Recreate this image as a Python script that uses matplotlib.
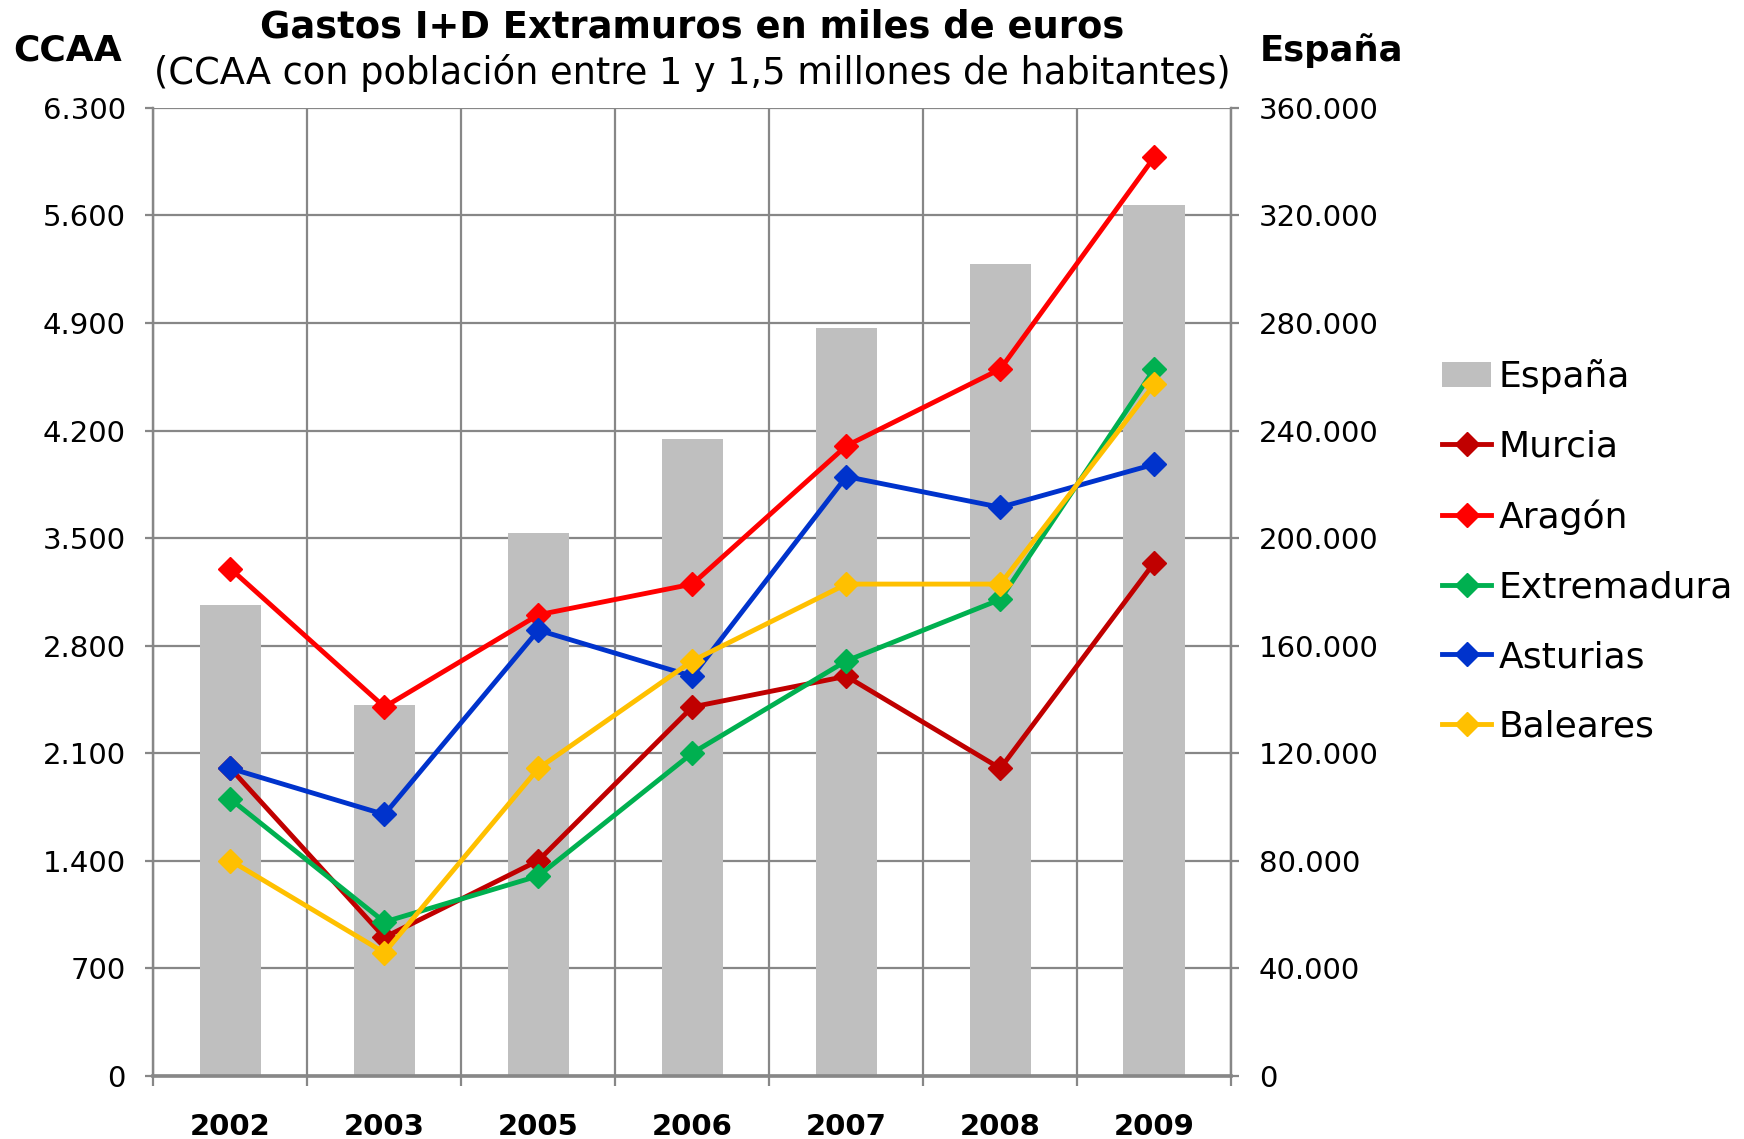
import matplotlib
matplotlib.use("Agg")
import matplotlib.pyplot as plt
from matplotlib.ticker import FuncFormatter, MultipleLocator, FixedLocator
import numpy as np

years = ['2002', '2003', '2005', '2006', '2007', '2008', '2009']
espana = [175000, 138000, 202000, 237000, 278000, 302000, 324000]
murcia = [2000, 900, 1400, 2400, 2600, 2000, 3340]
aragon = [3300, 2400, 3000, 3200, 4100, 4600, 5980]
extremadura = [1800, 1000, 1300, 2100, 2700, 3100, 4600]
asturias = [2000, 1700, 2900, 2600, 3900, 3700, 3980]
baleares = [1400, 800, 2000, 2700, 3200, 3200, 4500]

series = [
    ('Murcia', murcia, '#C00000'),
    ('Aragón', aragon, '#FF0000'),
    ('Extremadura', extremadura, '#00B050'),
    ('Asturias', asturias, '#0033CC'),
    ('Baleares', baleares, '#FFC000'),
]

plt.rcParams['font.family'] = 'DejaVu Sans'
grid_col = '#878787'

fig = plt.figure(figsize=(17.44, 11.39), dpi=100)
ax = fig.add_axes([0.088, 0.0557, 0.618, 0.8495])
ax2 = ax.twinx()
ax.set_zorder(2)
ax2.set_zorder(1)
ax.patch.set_visible(False)

x = np.arange(len(years))

# bars (right axis)
bars = ax2.bar(x, espana, width=0.4, color='#BFBFBF', label='España', zorder=2)
ax2.set_ylim(0, 360000)
ax2.yaxis.set_major_locator(MultipleLocator(40000))
ax2.yaxis.grid(True, color=grid_col, linewidth=1.6)
ax2.set_axisbelow(True)

# lines (left axis)
handles = [bars]
for name, vals, col in series:
    h, = ax.plot(x, vals, color=col, linewidth=3.5, marker='D', markersize=12.5,
                 label=name, clip_on=False, zorder=3)
    handles.append(h)
ax.set_ylim(0, 6300)
ax.yaxis.set_major_locator(MultipleLocator(700))
ax.set_xlim(-0.5, len(years) - 0.5)

fmt = FuncFormatter(lambda v, p: f"{int(round(v)):,}".replace(',', '.'))
ax.yaxis.set_major_formatter(fmt)
ax2.yaxis.set_major_formatter(fmt)

# x axis: labels at centers, grid + ticks at boundaries
ax.set_xticks(x)
ax.set_xticklabels(years, fontsize=21, fontweight='bold')
ax.xaxis.set_minor_locator(FixedLocator(np.arange(-0.5, len(years), 1.0)))
ax.tick_params(axis='x', which='major', length=0, pad=27)
ax.tick_params(axis='x', which='minor', length=7, width=1.6, color=grid_col)
ax.xaxis.grid(True, which='minor', color=grid_col, linewidth=1.6)

ax.tick_params(axis='y', labelsize=21, length=6, width=1.6, color=grid_col, pad=14)
ax2.tick_params(axis='y', labelsize=21, length=6, width=1.6, color=grid_col, pad=14)

for a in (ax, ax2):
    for s in a.spines.values():
        s.set_color(grid_col)
        s.set_linewidth(1.6)
    a.spines['top'].set_visible(False)
ax.spines['bottom'].set_linewidth(2.6)

fig.text(0.3968, 0.9765, 'Gastos I+D Extramuros en miles de euros', ha='center', va='center',
         fontsize=26.6, fontweight='bold')
fig.text(0.3968, 0.9357, '(CCAA con población entre 1 y 1,5 millones de habitantes)',
         ha='center', va='center', fontsize=26.5)
fig.text(0.0075, 0.956, 'CCAA', ha='left', va='center', fontsize=26, fontweight='bold')
fig.text(0.7225, 0.956, 'España', ha='left', va='center', fontsize=25.5, fontweight='bold')

fig.legend(handles, [h.get_label() for h in handles], loc='upper left',
           bbox_to_anchor=(0.827, 0.6845), frameon=False, fontsize=26,
           handlelength=1.35, handletextpad=0.2, labelspacing=0.985,
           borderaxespad=0, borderpad=0)

fig.savefig('out.png', dpi=100)
